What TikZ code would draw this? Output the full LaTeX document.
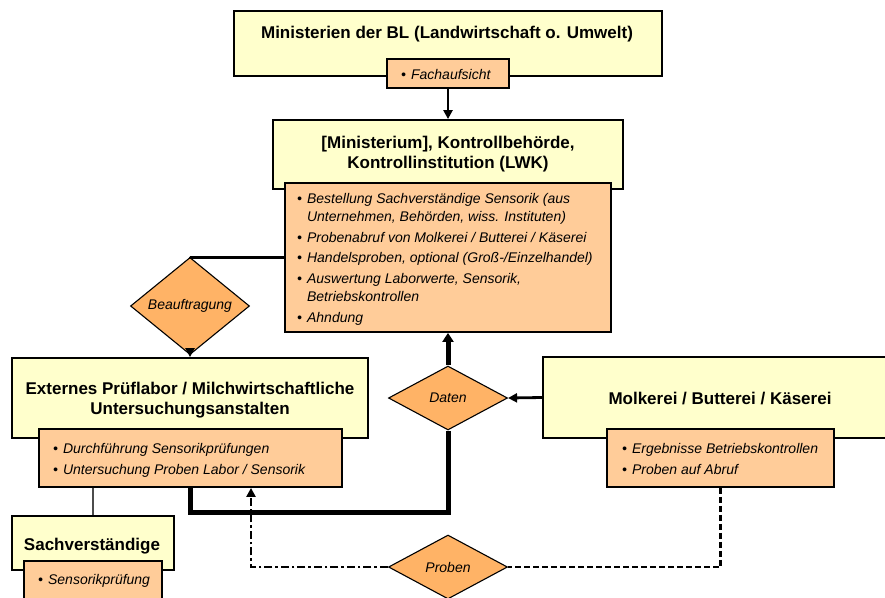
\documentclass[tikz,border=0pt]{standalone}
\usepackage{fontspec}
\setmainfont{Liberation Sans}
\usetikzlibrary{shapes.geometric,arrows.meta}

\definecolor{boxyellow}{HTML}{FFFFCC}
\definecolor{listorange}{HTML}{FFCC99}
\definecolor{decorange}{HTML}{FFB366}

\tikzset{
  unitbox/.style={rectangle, draw=black, line width=1.8pt, fill=boxyellow, inner sep=0pt},
  listbox/.style={rectangle, draw=black, line width=1.8pt, fill=listorange, inner sep=0pt},
  decision/.style={diamond, draw=black, line width=1.1pt, fill=decorange, inner sep=0pt,
    minimum width=119pt, minimum height=64pt, font=\fontsize{14}{17}\selectfont\itshape},
  titletext/.style={anchor=base, inner sep=0pt, font=\fontsize{17}{20.5}\selectfont\bfseries},
  listtext/.style={anchor=base west, inner sep=0pt, font=\fontsize{14}{18}\selectfont\itshape},
  flow/.style={line width=2.8pt, -{Triangle[length=9pt,width=9pt]}},
  flowplain/.style={line width=2.8pt},
  dataflow/.style={line width=5pt},
  sampleflow/.style={line width=2.6pt, dash pattern=on 6pt off 3pt},
  sampleinflow/.style={line width=2.6pt, dash pattern=on 8pt off 3pt on 2.5pt off 3pt,
    -{Triangle[length=9pt,width=9pt]}},
  expertlink/.style={line width=1.3pt, draw=black!70},
}
\newcommand{\bulletlist}[1]{\begin{tabular}[t]{@{}l@{\hspace{5pt}}l@{}}#1\end{tabular}}
\newcommand{\titlelines}[1]{\begin{tabular}[t]{@{}c@{}}#1\end{tabular}}

\begin{document}
\begin{tikzpicture}[x=1pt, y=-1pt]
  \useasboundingbox (0,0) rectangle (885,597);
  \clip (0,0) rectangle (885,597);

  % organisational units
  \node[unitbox, minimum width=428pt, minimum height=65pt] (bl) at (448,43.5) {};
  \node[listbox, minimum width=122pt, minimum height=29pt] (blList) at (448,73.5) {};
  \node[unitbox, minimum width=350pt, minimum height=69pt] (kb) at (448,154.5) {};
  \node[listbox, minimum width=326pt, minimum height=149pt] (kbList) at (448,257.5) {};
  \node[unitbox, minimum width=356pt, minimum height=80pt] (lab) at (190,398) {};
  \node[listbox, minimum width=303pt, minimum height=58pt] (labList) at (190.5,458) {};
  \node[unitbox, minimum width=162pt, minimum height=54pt] (sv) at (93,543) {};
  \node[listbox, minimum width=138pt, minimum height=49pt] (svList) at (93,585.5) {};
  \node[unitbox, minimum width=357pt, minimum height=81pt] (mk) at (721.5,397.5) {};
  \node[listbox, minimum width=227pt, minimum height=58pt] (mkList) at (720.5,458) {};

  % decisions
  \node[decision] (auftrag) at (190,306) {Beauftragung};
  \node[decision] (daten) at (448,398) {Daten};
  \node[decision] (proben) at (448,567) {Proben};

  % titles
  \node[titletext] (blTitle) at (447,38) {Ministerien der BL (Landwirtschaft o. Umwelt)};
  \node[titletext] (kbTitle) at (448,148) {\titlelines{[Ministerium], Kontrollbehörde,\\ Kontrollinstitution (LWK)}};
  \node[titletext] (labTitle) at (190,394) {\titlelines{Externes Prüflabor / Milchwirtschaftliche\\ Untersuchungsanstalten}};
  \node[titletext] (svTitle) at (92,550) {Sachverständige};
  \node[titletext] (mkTitle) at (720,404) {Molkerei / Butterei / Käserei};

  % task lists
  \node[listtext] (blTasks) at (401,79) {\bulletlist{\textbullet & Fachaufsicht}};
  \node[listtext] (kbTasks) at (297,203) {\bulletlist{%
    \textbullet & Bestellung Sachverständige Sensorik (aus\\
      & Unternehmen, Behörden, wiss. Instituten)\\[3pt]
    \textbullet & Probenabruf von Molkerei / Butterei / Käserei\\[2pt]
    \textbullet & Handelsproben, optional (Groß-/Einzelhandel)\\[3pt]
    \textbullet & Auswertung Laborwerte, Sensorik,\\
      & Betriebskontrollen\\[3pt]
    \textbullet & Ahndung}};
  \node[listtext] (labTasks) at (53,453) {\bulletlist{%
    \textbullet & Durchführung Sensorikprüfungen\\[3pt]
    \textbullet & Untersuchung Proben Labor / Sensorik}};
  \node[listtext] (svTasks) at (38,584) {\bulletlist{\textbullet & Sensorikprüfung}};
  \node[listtext] (mkTasks) at (622,453) {\bulletlist{%
    \textbullet & Ergebnisse Betriebskontrollen\\[3pt]
    \textbullet & Proben auf Abruf}};

  % connectors
  \draw[flow] (blList.south) -- (kb.north);
  \draw[flowplain] (kbList.west) -| (auftrag.north);
  \draw[flow] (auftrag.south) -- (lab.north);
  \draw[dataflow] (labList.south) -- ++(0,25) -| (daten.south);
  \draw[dataflow, -{Triangle[length=9pt,width=11pt]}] (daten.north) -- (kbList.south);
  \draw[flow] (mk.west) -- (daten.east);
  \draw[sampleflow] (mkList.south) |- (proben.east);
  \draw[sampleinflow] (proben.west) -| ([xshift=60.5pt]labList.south);
  \draw[expertlink] (labList.south -| sv.north) -- (sv.north);
\end{tikzpicture}
\end{document}
